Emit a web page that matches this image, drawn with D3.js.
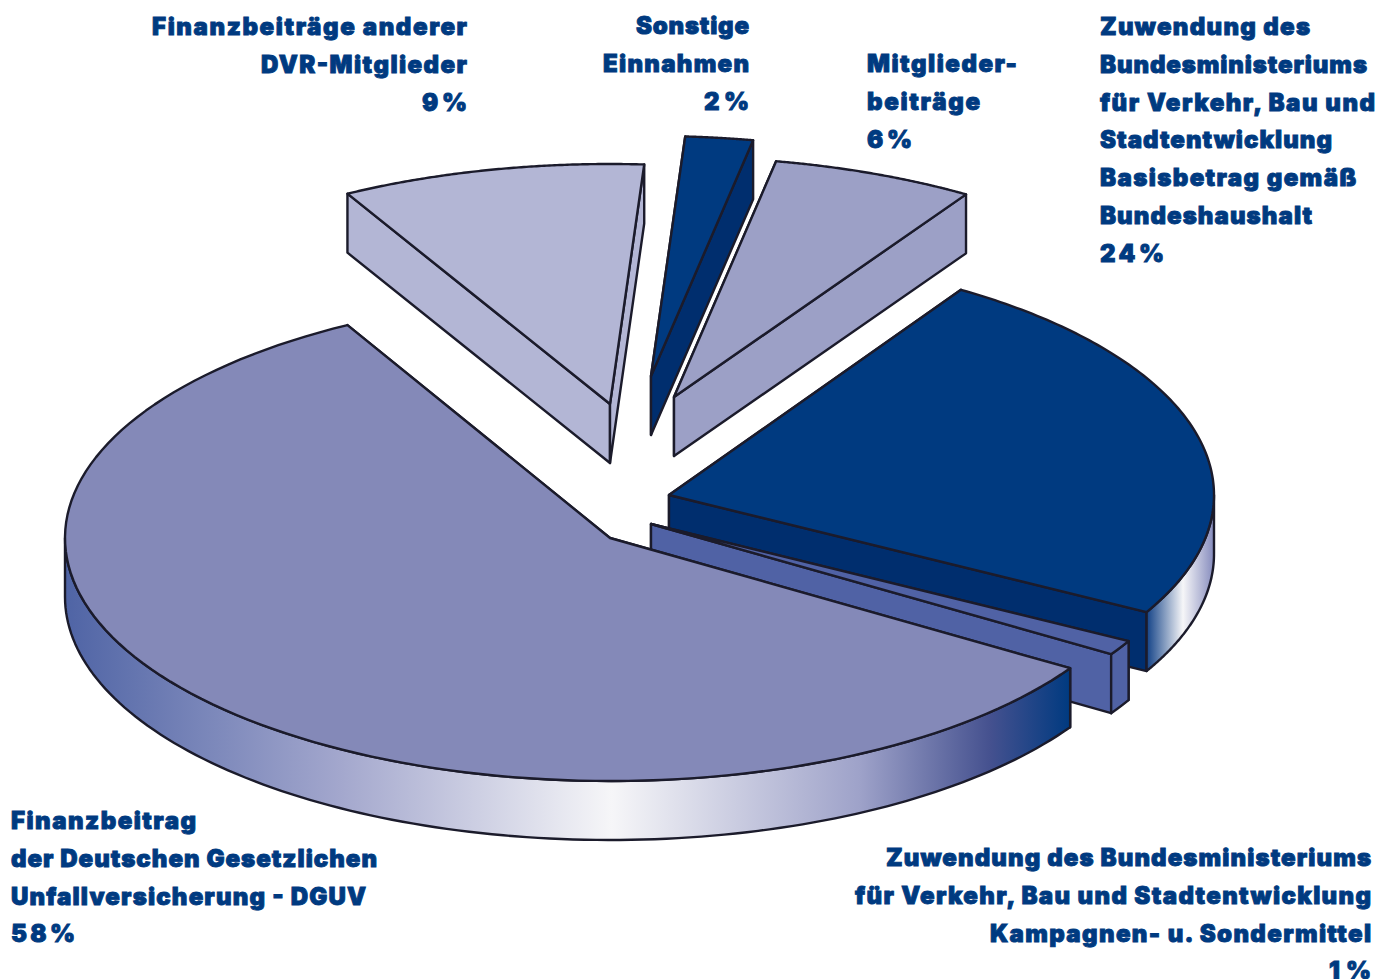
<!DOCTYPE html>
<html lang="de">
<head>
<meta charset="utf-8">
<title>Finanzierung</title>
<script src="https://cdn.jsdelivr.net/npm/d3@7"></script>
<style>
  html, body { margin: 0; padding: 0; background: #fff; overflow: hidden; }
  svg { display: block; }
  text { font-family: Inter, "DejaVu Sans", sans-serif; font-weight: 900; font-size: 24px; fill: #003a80; stroke: #003a80; stroke-width: .9px; }
</style>
</head>
<body>
<svg id="chart" width="1379" height="979"></svg>
<script>
// Shares of income, in percent, clockwise from the large DGUV slice
const shares = [58, 9, 2, 6, 24, 1];
const sliceNames = ["dguv", "dvr", "sonstige", "mitglieder", "basis", "kampagnen"];
const labelLines = [
  ["Finanzbeitrag", "der Deutschen Gesetzlichen", "Unfallversicherung - DGUV"],
  ["Finanzbeiträge anderer", "DVR-Mitglieder"],
  ["Sonstige", "Einnahmen"],
  ["Mitglieder-", "beiträge"],
  ["Zuwendung des", "Bundesministeriums", "für Verkehr, Bau und", "Stadtentwicklung", "Basisbetrag gemäß", "Bundeshaushalt"],
  ["Zuwendung des Bundesministeriums", "für Verkehr, Bau und Stadtentwicklung", "Kampagnen- u. Sondermittel"]
];

// Layout of the exploded tilted pie
const rx = 545, depth = 59;
const ry = { dguv: 243, dvr: 240, sonstige: 240, mitglieder: 240, basis: 243, kampagnen: 243 };
const firstAngle = 122.4 * Math.PI / 180;
const apex = {
  dguv: [610, 538], dvr: [610, 404], sonstige: [651, 376],
  mitglieder: [674, 397], basis: [669, 495], kampagnen: [651, 524]
};
const drawOrder = ["dvr", "sonstige", "mitglieder", "basis", "kampagnen", "dguv"];
const topFill = {
  dguv: "#8489b8", dvr: "#b3b6d5", sonstige: "#003a80",
  mitglieder: "#9ca0c6", basis: "#003a80", kampagnen: "#5062a5"
};
const wallFill = {
  dguv: "#8489b8", dvr: "#b3b6d5", sonstige: "#002e6e",
  mitglieder: "#9ca0c6", basis: "#002e6e", kampagnen: "#5062a5"
};
// Horizontal shading of the curved rim, as [x, colour]
const rimShade = {
  dguv: [[65, "#4f64a5"], [340, "#a3a7cd"], [612, "#f6f6f8"], [860, "#9ea2c9"], [990, "#45518f"], [1070, "#003a80"]],
  basis: [[1146, "#0f3f85"], [1183, "#f6f6f8"], [1214, "#858bbd"]]
};
// Label anchors and the set width of each line, share line last
const labelPlace = {
  dguv: { x: 11, y: 829, anchor: "start", widths: [185, 366, 355, 64] },
  dvr: { x: 467, y: 35, anchor: "end", widths: [315, 206, 45] },
  sonstige: { x: 749, y: 34, anchor: "end", widths: [113, 146, 45] },
  mitglieder: { x: 867, y: 72, anchor: "start", widths: [150, 113, 45] },
  basis: { x: 1100, y: 35, anchor: "start", widths: [210, 267, 275, 232, 256, 212, 64] },
  kampagnen: { x: 1371, y: 866, anchor: "end", widths: [485, 516, 381, 42] }
};
const lineStep = 37.75;

const svg = d3.select("#chart");
const defs = svg.append("defs");

const arcs = d3.pie().sort(null).startAngle(firstAngle).endAngle(firstAngle + 2 * Math.PI)(shares);
const slices = sliceNames.map((name, i) => ({
  name, value: shares[i], lines: labelLines[i],
  a0: arcs[i].startAngle, a1: arcs[i].endAngle
}));

const xAt = (s, a) => apex[s.name][0] + rx * Math.sin(a);
const yAt = (s, a, dy = 0) => apex[s.name][1] - ry[s.name] * Math.cos(a) + dy;
const line = d3.line();
const sweep = (from, to) => d3.range(0, 121).map(k => from + (to - from) * k / 120);

Object.entries(rimShade).forEach(([name, stops]) => {
  const g = defs.append("linearGradient")
    .attr("id", "rim-" + name)
    .attr("gradientUnits", "userSpaceOnUse")
    .attr("x1", stops[0][0]).attr("x2", stops[stops.length - 1][0])
    .attr("y1", 0).attr("y2", 0);
  const off = d3.scaleLinear().domain([stops[0][0], stops[stops.length - 1][0]]).range([0, 1]);
  stops.forEach(([x, c]) => g.append("stop").attr("offset", off(x)).attr("stop-color", c));
});

const pieces = svg.append("g")
  .attr("stroke", "#1b1b2b").attr("stroke-width", 2.4).attr("stroke-linejoin", "round");

drawOrder.map(n => slices.find(s => s.name === n)).forEach(s => {
  const [cx, cy] = apex[s.name];
  const g = pieces.append("g").attr("class", "slice " + s.name);

  // Radial walls
  [s.a0, s.a1].forEach(a => {
    g.append("path").attr("fill", wallFill[s.name]).attr("d", line([
      [cx, cy], [xAt(s, a), yAt(s, a)], [xAt(s, a), yAt(s, a, depth)], [cx, cy + depth]
    ]) + "Z");
  });

  // Curved rim, only where it faces the viewer; angles run past a full turn
  [0, 2 * Math.PI].forEach(turn => {
    const from = Math.max(s.a0, Math.PI / 2 + turn), to = Math.min(s.a1, 3 * Math.PI / 2 + turn);
    if (to <= from) return;
    const angles = sweep(from, to);
    const pts = angles.map(a => [xAt(s, a), yAt(s, a)])
      .concat(angles.slice().reverse().map(a => [xAt(s, a), yAt(s, a, depth)]));
    g.append("path")
      .attr("fill", rimShade[s.name] ? `url(#rim-${s.name})` : wallFill[s.name])
      .attr("d", line(pts) + "Z");
  });

  // Top face
  const rimPts = sweep(s.a0, s.a1).map(a => [xAt(s, a), yAt(s, a)]);
  g.append("path").attr("fill", topFill[s.name])
    .attr("d", line([[cx, cy], ...rimPts]) + "Z");
});

// Labels: description lines followed by the share
const labels = svg.append("g");
slices.forEach(s => {
  const p = labelPlace[s.name];
  const t = labels.append("text").attr("text-anchor", p.anchor);
  s.lines.concat(`${s.value}%`).forEach((txt, i) => {
    t.append("tspan")
      .attr("x", p.x)
      .attr("y", p.y + i * lineStep)
      .attr("textLength", p.widths[i])
      .attr("lengthAdjust", "spacing")
      .text(txt);
  });
});
</script>
</body>
</html>
